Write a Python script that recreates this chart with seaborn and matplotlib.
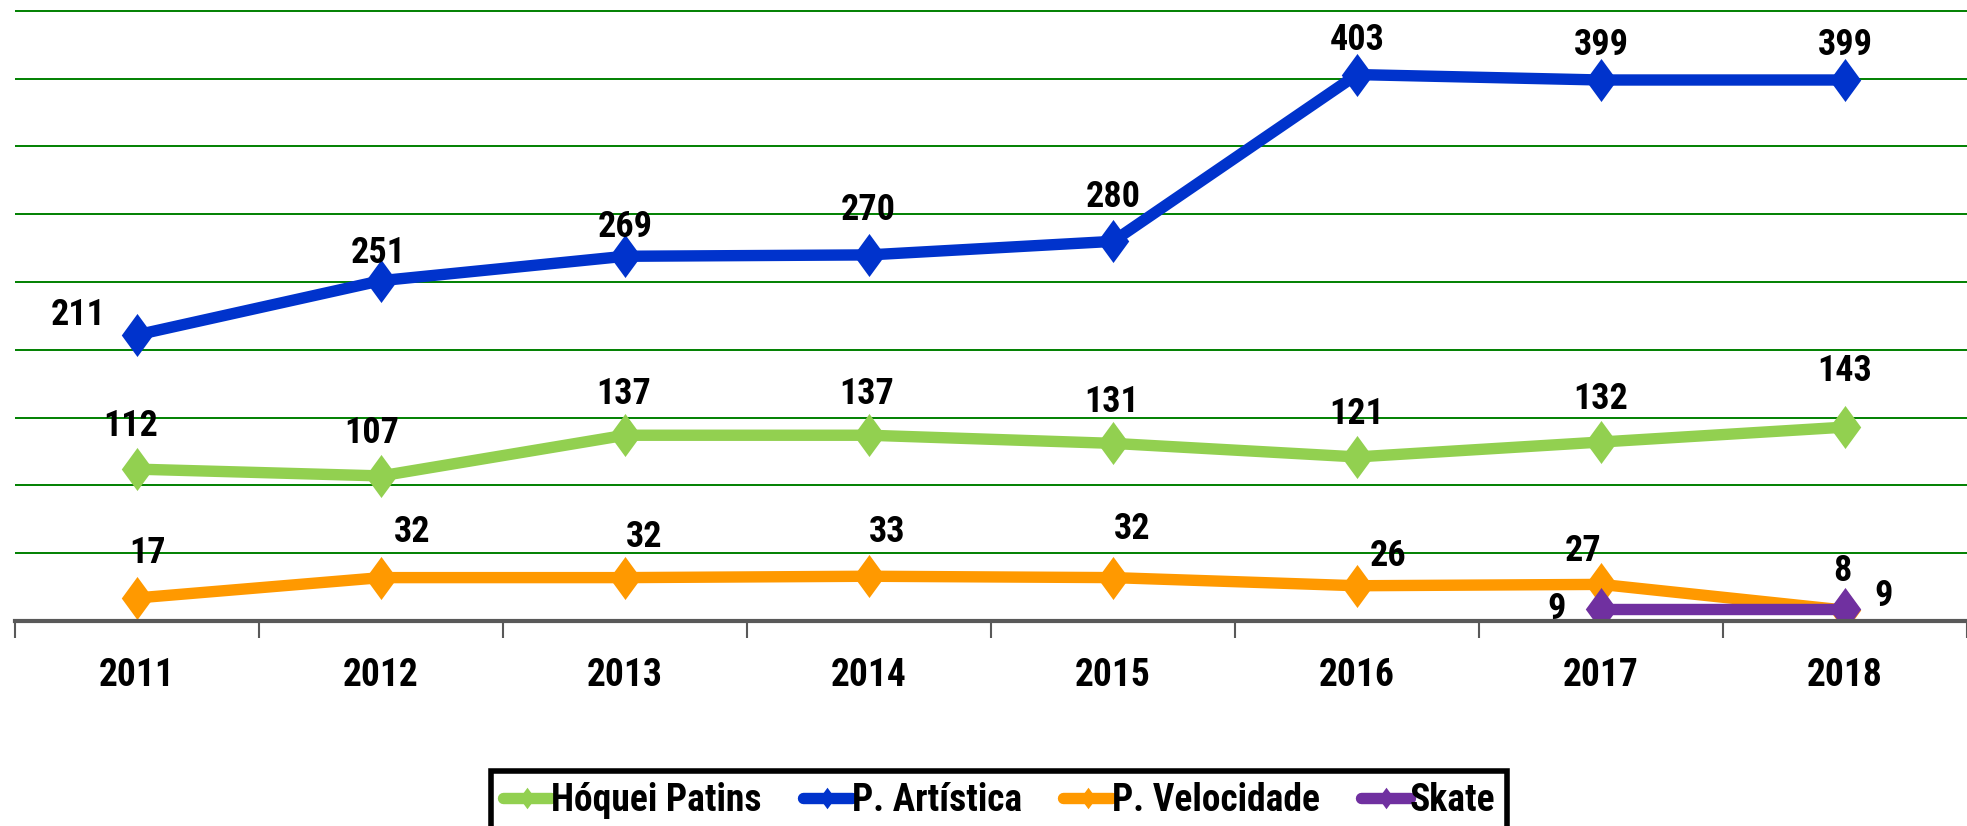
import numpy as np
import pandas as pd
import matplotlib
matplotlib.use('Agg')
import matplotlib.pyplot as plt
import matplotlib.font_manager as fm
import seaborn as sns

# data
years = ['2011', '2012', '2013', '2014', '2015', '2016', '2017', '2018']
hoquei = [112, 107, 137, 137, 131, 121, 132, 143]
artistica = [211, 251, 269, 270, 280, 403, 399, 399]
velocidade = [17, 32, 32, 33, 32, 26, 27, 8]
skate = [None, None, None, None, None, None, 9, 9]
series_names = ['Hóquei Patins', 'P. Artística', 'P. Velocidade', 'Skate']

colors = {'Hóquei Patins': '#92D050', 'P. Artística': '#0033CC',
          'P. Velocidade': '#FF9900', 'Skate': '#7030A0'}

# label offsets in pixels (dx, dy), one per point
label_offsets = {
    'Hóquei Patins': [(-6, 43), (-9, 43), (-1, 41), (-2, 41), (-1, 41), (0, 43), (0, 43), (0, 56)],
    'P. Artística': [(-59, 20), (-3, 28), (0, 29), (-1, 45), (0, 44), (0, 35), (0, 35), (0, 35)],
    'P. Velocidade': [(10, 45), (31, 46), (19, 41), (18, 44), (19, 49), (31, 30), (-18, 33), (-3, 39)],
    'Skate': [None] * 6 + [(-44, 0), (39, 13)],
}

sns.set_theme(style='white')

# look for a narrow / condensed bold face, the reference uses a condensed font
condensed = None
stretch = 'normal'
preferred = ['Liberation Sans Narrow', 'Roboto Condensed', 'Open Sans Condensed',
             'DejaVu Sans Condensed', 'Noto Sans', 'Open Sans', 'Roboto']
for fam in preferred:
    for f in fm.fontManager.ttflist:
        if f.name != fam:
            continue
        if 'narrow' in f.name.lower() or 'condensed' in f.name.lower():
            condensed, stretch = fam, 'normal'
        elif isinstance(f.stretch, str) and 'condensed' in f.stretch:
            condensed, stretch = fam, f.stretch
        if condensed:
            break
    if condensed:
        break

if condensed:
    plt.rcParams['font.family'] = [condensed, 'DejaVu Sans']
    plt.rcParams['font.stretch'] = stretch
    label_size, tick_size, legend_size = 26, 27, 27
else:
    plt.rcParams['font.family'] = ['DejaVu Sans']
    label_size, tick_size, legend_size = 20, 20, 19
plt.rcParams['font.weight'] = 'bold'

rows = []
for name, vals in zip(series_names, [hoquei, artistica, velocidade, skate]):
    for i, v in enumerate(vals):
        if v is not None:
            rows.append({'pos': i, 'valor': v, 'serie': name})
df = pd.DataFrame(rows)

# slightly tall diamond, like the spreadsheet marker
diamond = [(0, 1), (0.73, 0), (0, -1), (-0.73, 0), (0, 1)]

fig = plt.figure(figsize=(19.67, 8.26), dpi=100)
ax = fig.add_axes([15 / 1967, 1 - 621 / 826, 1 - 15 / 1967, 621 / 826])

sns.lineplot(data=df, x='pos', y='valor', hue='serie', hue_order=series_names,
             palette=colors, marker=diamond, markersize=31, linewidth=8.2,
             markeredgewidth=0, ax=ax, legend=True)

for name, vals in zip(series_names, [hoquei, artistica, velocidade, skate]):
    for i, v in enumerate(vals):
        if v is None:
            continue
        dx, dy = label_offsets[name][i]
        ax.annotate(str(v), (i, v), xytext=(dx, dy), textcoords='offset pixels',
                    ha='center', va='center', fontsize=label_size, fontweight='bold', color='black')

ax.set_xlim(-0.5, 7.41)
ax.set_ylim(0, 458)
ax.set_yticks(np.arange(50, 451, 50))
ax.set_yticklabels([])
ax.tick_params(axis='y', length=0)
ax.grid(axis='y', color='#008000', linewidth=1.4)
ax.set_axisbelow(True)

ax.set_xticks(range(len(years)))
ax.set_xticklabels(years, fontsize=tick_size, fontweight='bold', color='black')
ax.set_xticks(np.arange(-0.5, len(years), 1), minor=True)
ax.tick_params(axis='x', which='major', length=0, pad=26, labelcolor='black')
ax.tick_params(axis='x', which='minor', length=12, width=1.5, color='#595959', direction='out', bottom=True)
ax.set_xlabel('')
ax.set_ylabel('')

for side in ['top', 'right', 'left']:
    ax.spines[side].set_visible(False)
ax.spines['bottom'].set_color('#595959')
ax.spines['bottom'].set_linewidth(3)

handles, labels = ax.get_legend_handles_labels()
ax.get_legend().remove()
leg = fig.legend(handles, labels, loc='upper center', bbox_to_anchor=(999 / 1967, 1 - 771 / 826),
                 ncol=4, frameon=True, fancybox=False, framealpha=1, fontsize=legend_size,
                 handlelength=1.3, handletextpad=0.0, columnspacing=1.1, borderpad=0.3,
                 borderaxespad=0, markerscale=0.5)
leg.get_frame().set_edgecolor('black')
leg.get_frame().set_linewidth(4)
for t in leg.get_texts():
    t.set_fontweight('bold')
    t.set_color('black')

fig.savefig('out.png', dpi=100)
